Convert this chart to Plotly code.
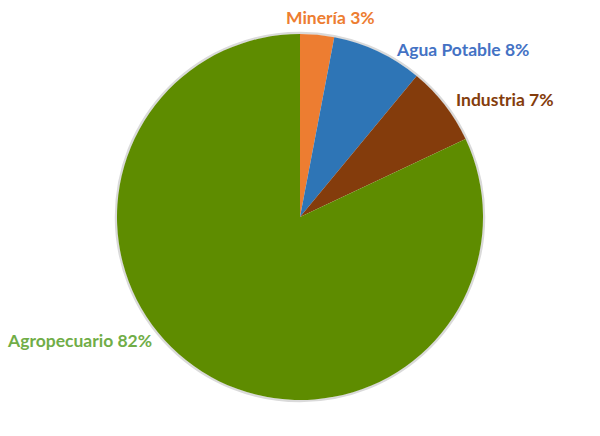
import plotly.graph_objects as go

# Water use by sector (%)
sectors = ["Minería", "Agua Potable", "Industria", "Agropecuario"]
shares = [3, 8, 7, 82]
slice_colors = ["#ED7D31", "#2E75B6", "#843C0C", "#5E8C00"]
label_colors = ["#ED7D31", "#4472C4", "#843C0C", "#70AD47"]

W, H = 600, 436
cx, cy, r = 300, 217, 183  # pie centre / radius in pixels

fig = go.Figure()
fig.add_trace(go.Pie(
    labels=sectors,
    values=shares,
    sort=False,
    direction="clockwise",
    rotation=0,
    marker=dict(colors=slice_colors, line=dict(width=0)),
    textinfo="none",
    hoverinfo="label+percent",
    showlegend=False,
    domain=dict(x=[0, 1], y=[(H - cy - r) / H, (H - cy + r) / H]),
))

# soft grey rim around the pie
rim = r + 1
fig.add_shape(
    type="circle", xref="paper", yref="paper", layer="below",
    x0=(cx - rim) / W, x1=(cx + rim) / W,
    y0=(H - cy - rim) / H, y1=(H - cy + rim) / H,
    line=dict(color="#DADADA", width=2.5), fillcolor="rgba(0,0,0,0)",
)

# outside labels (pixel anchor of each label's left edge / vertical centre)
label_pos = [(284, 18), (394, 49), (454, 100), (5, 340)]
for name, val, col, (lx, ly) in zip(sectors, shares, label_colors, label_pos):
    fig.add_annotation(
        x=lx / W, y=1 - ly / H, xref="paper", yref="paper",
        xanchor="left", yanchor="middle", showarrow=False,
        text=f"<b>{name} {val}%</b>",
        font=dict(family="Lato", size=17.5, color=col),
    )

fig.update_layout(
    width=W, height=H,
    margin=dict(l=0, r=0, t=0, b=0),
    paper_bgcolor="white", plot_bgcolor="white",
)

fig.write_html("out.html")
